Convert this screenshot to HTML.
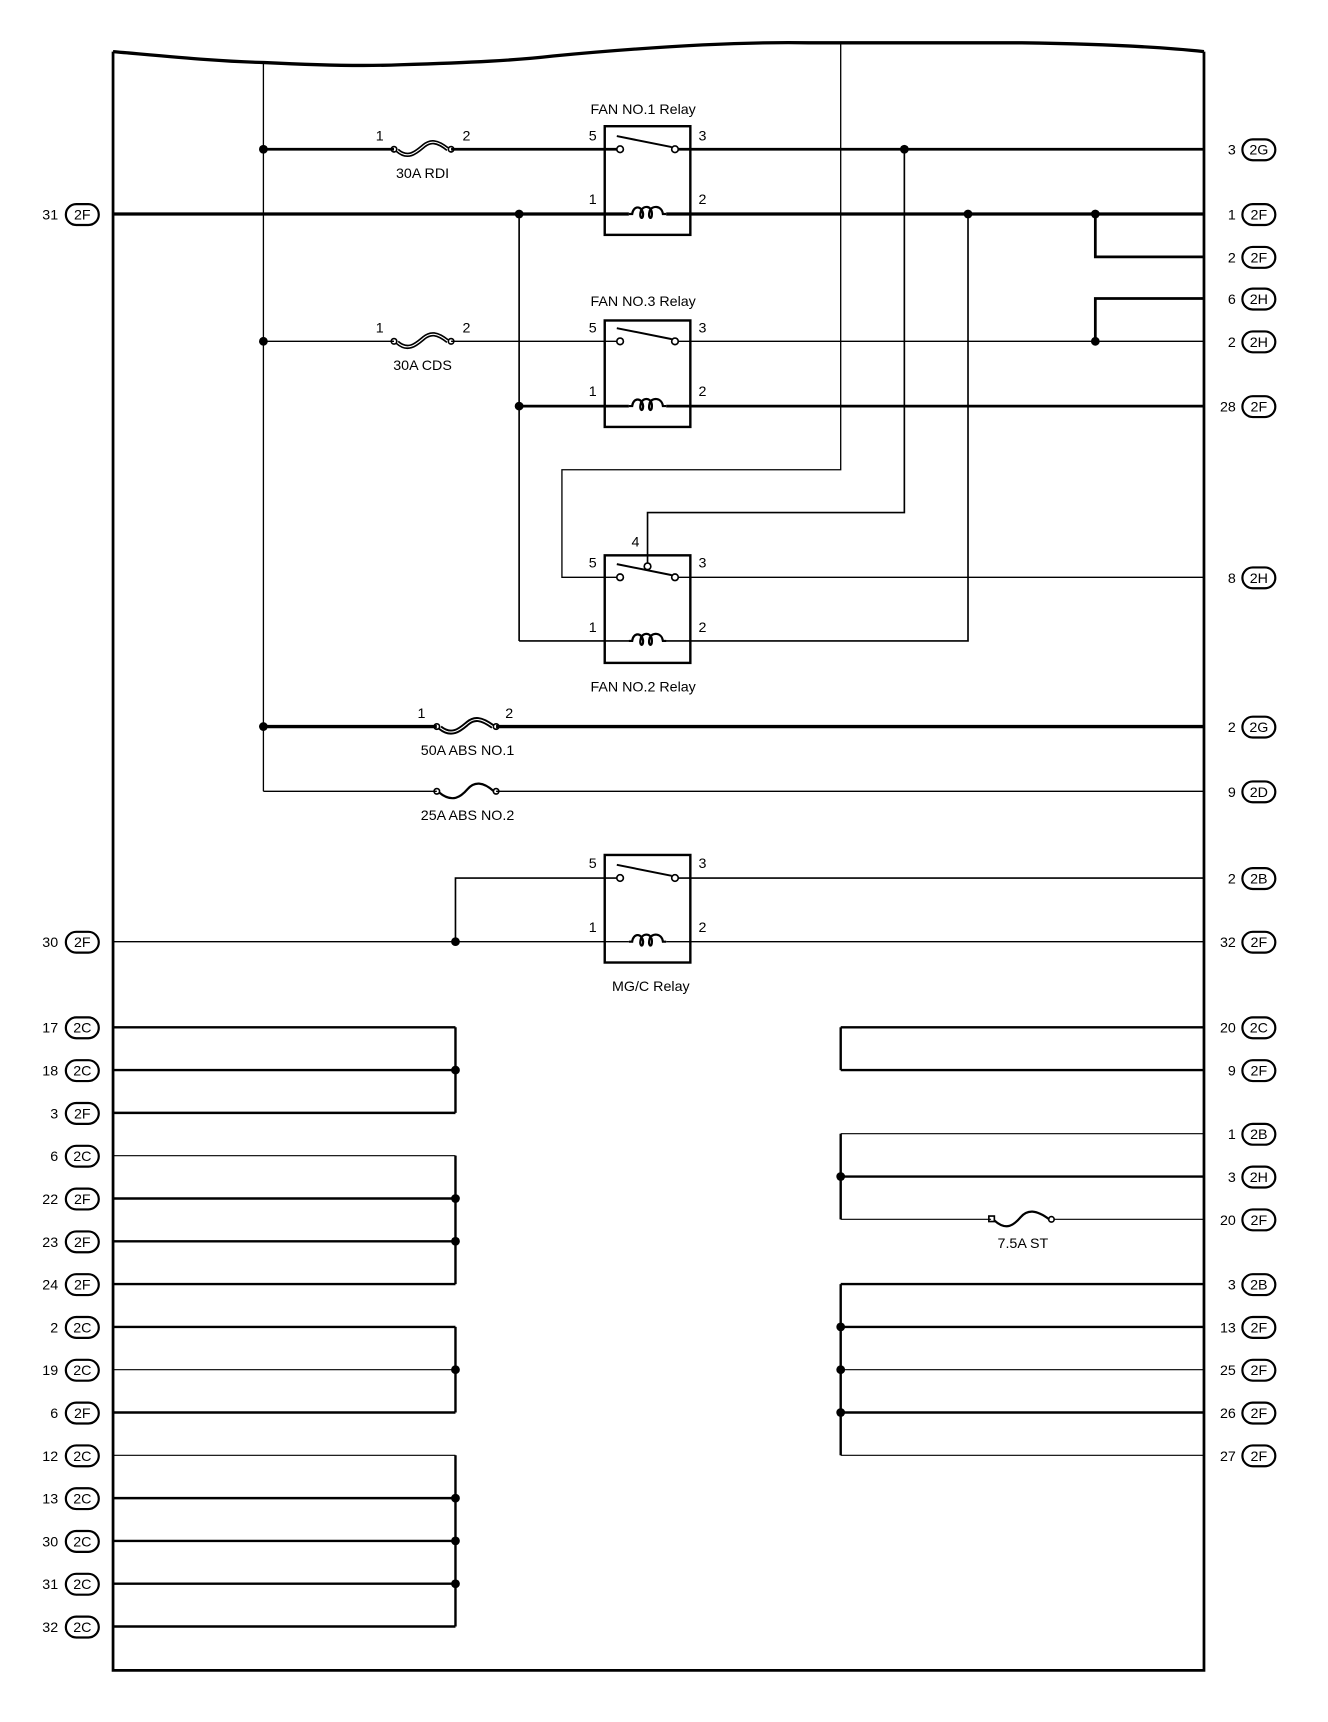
<!DOCTYPE html>
<html><head><meta charset="utf-8">
<style>
html,body{margin:0;padding:0;background:#fff;}
svg{display:block;}
text{font-family:"Liberation Sans",sans-serif;font-size:13px;fill:#000;}
</style></head>
<body>
<svg width="1328" height="1722" viewBox="0 0 1210 1569" preserveAspectRatio="none" xmlns="http://www.w3.org/2000/svg">
<defs>
<g id="coil"><path d="M-17,0 L-14,0 C-13,-8 -5,-8 -4,0 C-4,6 -8,4 -6,-3 C-4,-8 4,-8 4,0 C4,6 0,4 2,-3 C4,-8 13,-8 14,0 L17,0" fill="none" stroke="#000" stroke-width="2"/></g>
</defs>
<g stroke="#000" fill="none" stroke-linecap="butt">
<!-- frame -->
<path d="M103,47 C160,52 200,56 241,57 C300,60 340,60 365,59 C430,57 470,55 504,51 C600,42 680,38 737,39 L931,39 C1000,40 1060,43 1097,47" stroke-width="3"/>
<path d="M103,47 L103,1522 L1097,1522 L1097,47" stroke-width="2.5"/>

<!-- main verticals -->
<line x1="240" y1="57" x2="240" y2="721" stroke-width="1.2"/>
<path d="M766,40 L766,428 L512,428 L512,526 L565,526" stroke-width="1.2"/>
<line x1="473" y1="195" x2="473" y2="584" stroke-width="1.5"/>
<path d="M473,584 L575,584" stroke-width="1.5"/>
<path d="M605,584 L882,584 L882,195" stroke-width="1.5"/>
<path d="M824,136 L824,467 L590,467 L590,514" stroke-width="1.5"/>

<!-- row 136 -->
<line x1="240" y1="136" x2="359" y2="136" stroke-width="2.5"/>
<line x1="411" y1="136" x2="565" y2="136" stroke-width="2.5"/>
<line x1="615" y1="136" x2="1097" y2="136" stroke-width="2.5"/>
<!-- row 195 -->
<line x1="103" y1="195" x2="573" y2="195" stroke-width="3"/>
<line x1="607" y1="195" x2="1097" y2="195" stroke-width="3"/>
<path d="M998,195 L998,234 L1097,234" stroke-width="2.5"/>
<path d="M1097,272 L998,272 L998,311" stroke-width="2.5"/>
<!-- row 311 -->
<line x1="240" y1="311" x2="359" y2="311" stroke-width="1.2"/>
<line x1="411" y1="311" x2="565" y2="311" stroke-width="1.2"/>
<line x1="615" y1="311" x2="1097" y2="311" stroke-width="1.2"/>
<!-- row 370 -->
<line x1="473" y1="370" x2="573" y2="370" stroke-width="2.5"/>
<line x1="607" y1="370" x2="1097" y2="370" stroke-width="2.5"/>
<!-- row 526 -->
<line x1="615" y1="526" x2="1097" y2="526" stroke-width="1.2"/>
<!-- row 662 -->
<line x1="240" y1="662" x2="398" y2="662" stroke-width="3"/>
<line x1="452" y1="662" x2="1097" y2="662" stroke-width="3"/>
<!-- row 721 -->
<line x1="240" y1="721" x2="398" y2="721" stroke-width="1.2"/>
<line x1="452" y1="721" x2="1097" y2="721" stroke-width="1.2"/>
<!-- MG/C -->
<path d="M415,858 L415,800 L565,800" stroke-width="1.5"/>
<line x1="615" y1="800" x2="1097" y2="800" stroke-width="1.5"/>
<line x1="103" y1="858" x2="573" y2="858" stroke-width="1.2"/>
<line x1="607" y1="858" x2="1097" y2="858" stroke-width="1.2"/>

<!-- left groups -->
<g stroke-width="2.2">
<line x1="103" y1="936" x2="415" y2="936"/>
<line x1="103" y1="975" x2="415" y2="975"/>
<line x1="103" y1="1014" x2="415" y2="1014"/>
<line x1="415" y1="936" x2="415" y2="1014"/>
<line x1="103" y1="1092" x2="415" y2="1092"/>
<line x1="103" y1="1131" x2="415" y2="1131"/>
<line x1="103" y1="1170" x2="415" y2="1170"/>
<line x1="415" y1="1053" x2="415" y2="1170"/>
<line x1="103" y1="1209" x2="415" y2="1209"/>
<line x1="103" y1="1287" x2="415" y2="1287"/>
<line x1="415" y1="1209" x2="415" y2="1287"/>
<line x1="103" y1="1365" x2="415" y2="1365"/>
<line x1="103" y1="1404" x2="415" y2="1404"/>
<line x1="103" y1="1443" x2="415" y2="1443"/>
<line x1="103" y1="1482" x2="415" y2="1482"/>
<line x1="415" y1="1326" x2="415" y2="1482"/>
</g>
<g stroke-width="1">
<line x1="103" y1="1053" x2="415" y2="1053"/>
<line x1="103" y1="1248" x2="415" y2="1248"/>
<line x1="103" y1="1326" x2="415" y2="1326"/>
</g>

<!-- right groups -->
<g stroke-width="2.2">
<line x1="766" y1="936" x2="1097" y2="936"/>
<line x1="766" y1="975" x2="1097" y2="975"/>
<line x1="766" y1="936" x2="766" y2="975"/>
<line x1="766" y1="1072" x2="1097" y2="1072"/>
<line x1="766" y1="1033" x2="766" y2="1111"/>
<line x1="766" y1="1170" x2="1097" y2="1170"/>
<line x1="766" y1="1209" x2="1097" y2="1209"/>
<line x1="766" y1="1287" x2="1097" y2="1287"/>
<line x1="766" y1="1170" x2="766" y2="1326"/>
</g>
<g stroke-width="1">
<line x1="766" y1="1033" x2="1097" y2="1033"/>
<line x1="766" y1="1111" x2="903" y2="1111"/>
<line x1="960" y1="1111" x2="1097" y2="1111"/>
<line x1="766" y1="1248" x2="1097" y2="1248"/>
<line x1="766" y1="1326" x2="1097" y2="1326"/>
</g>

<!-- fuses heavy -->
<g stroke-width="1.5">
<circle cx="359" cy="136" r="2.5"/><circle cx="411" cy="136" r="2.5"/>
<path d="M362,137 C372,146 380,138 386,133 C392,128 398,128 408,136" stroke-width="4"/>
<path d="M362,137 C372,146 380,138 386,133 C392,128 398,128 408,136" stroke="#fff" stroke-width="1"/>
<circle cx="359" cy="311" r="2.5"/><circle cx="411" cy="311" r="2.5"/>
<path d="M362,312 C372,321 380,313 386,308 C392,303 398,303 408,311" stroke-width="4"/>
<path d="M362,312 C372,321 380,313 386,308 C392,303 398,303 408,311" stroke="#fff" stroke-width="1"/>
<circle cx="398" cy="662" r="2.5"/><circle cx="452" cy="662" r="2.5"/>
<path d="M401,663 C412,672 420,664 426,659 C432,654 438,654 449,662" stroke-width="4.5"/>
<path d="M401,663 C412,672 420,664 426,659 C432,654 438,654 449,662" stroke="#fff" stroke-width="1"/>
<!-- normal fuses -->
<circle cx="398" cy="721" r="2.5"/><circle cx="452" cy="721" r="2.5"/>
<path d="M400,722 C412,732 420,726 426,719 C432,712 440,712 450,721" stroke-width="2"/>
<rect x="901" y="1108" width="5" height="5" stroke-width="1.5"/><circle cx="958" cy="1111" r="2.5"/>
<path d="M906,1112 C917,1122 924,1116 930,1109 C936,1102 944,1102 956,1111" stroke-width="2"/>
</g>

<!-- relays -->
<g stroke-width="2.2">
<rect x="551" y="115" width="78" height="99"/>
<rect x="551" y="292" width="78" height="97"/>
<rect x="551" y="506" width="78" height="98"/>
<rect x="551" y="779" width="78" height="98"/>
</g>
<g stroke-width="1.5" fill="#fff">
<circle cx="565" cy="136" r="3"/><circle cx="615" cy="136" r="3"/>
<circle cx="565" cy="311" r="3"/><circle cx="615" cy="311" r="3"/>
<circle cx="565" cy="526" r="3"/><circle cx="615" cy="526" r="3"/><circle cx="590" cy="516" r="3"/>
<circle cx="565" cy="800" r="3"/><circle cx="615" cy="800" r="3"/>
</g>
<g stroke-width="1.8">
<line x1="562" y1="124" x2="612" y2="134"/>
<line x1="562" y1="299" x2="612" y2="309"/>
<line x1="562" y1="514" x2="612" y2="524"/>
<line x1="562" y1="788" x2="612" y2="798"/>
</g>
</g>
<use href="#coil" x="590" y="195"/>
<use href="#coil" x="590" y="370"/>
<use href="#coil" x="590" y="584"/>
<use href="#coil" x="590" y="858"/>

<!-- dots -->
<g fill="#000">
<circle cx="240" cy="136" r="4"/><circle cx="824" cy="136" r="4"/>
<circle cx="473" cy="195" r="4"/><circle cx="882" cy="195" r="4"/><circle cx="998" cy="195" r="4"/>
<circle cx="240" cy="311" r="4"/><circle cx="998" cy="311" r="4"/>
<circle cx="473" cy="370" r="4"/>
<circle cx="240" cy="662" r="4"/>
<circle cx="415" cy="858" r="4"/>
<circle cx="415" cy="975" r="4"/><circle cx="415" cy="1092" r="4"/><circle cx="415" cy="1131" r="4"/>
<circle cx="415" cy="1248" r="4"/><circle cx="415" cy="1365" r="4"/><circle cx="415" cy="1404" r="4"/><circle cx="415" cy="1443" r="4"/>
<circle cx="766" cy="1072" r="4"/><circle cx="766" cy="1209" r="4"/><circle cx="766" cy="1248" r="4"/><circle cx="766" cy="1287" r="4"/>
</g>

<!-- relay/fuse labels -->
<text x="586" y="104" text-anchor="middle">FAN NO.1 Relay</text>
<text x="586" y="279" text-anchor="middle">FAN NO.3 Relay</text>
<text x="586" y="630" text-anchor="middle">FAN NO.2 Relay</text>
<text x="593" y="903" text-anchor="middle">MG/C Relay</text>
<text x="540" y="128" text-anchor="middle">5</text><text x="640" y="128" text-anchor="middle">3</text>
<text x="540" y="186" text-anchor="middle">1</text><text x="640" y="186" text-anchor="middle">2</text>
<text x="540" y="303" text-anchor="middle">5</text><text x="640" y="303" text-anchor="middle">3</text>
<text x="540" y="361" text-anchor="middle">1</text><text x="640" y="361" text-anchor="middle">2</text>
<text x="540" y="517" text-anchor="middle">5</text><text x="640" y="517" text-anchor="middle">3</text><text x="579" y="498" text-anchor="middle">4</text>
<text x="540" y="576" text-anchor="middle">1</text><text x="640" y="576" text-anchor="middle">2</text>
<text x="540" y="791" text-anchor="middle">5</text><text x="640" y="791" text-anchor="middle">3</text>
<text x="540" y="849" text-anchor="middle">1</text><text x="640" y="849" text-anchor="middle">2</text>
<text x="346" y="128" text-anchor="middle">1</text><text x="425" y="128" text-anchor="middle">2</text>
<text x="385" y="162" text-anchor="middle">30A RDI</text>
<text x="346" y="303" text-anchor="middle">1</text><text x="425" y="303" text-anchor="middle">2</text>
<text x="385" y="337" text-anchor="middle">30A CDS</text>
<text x="384" y="654" text-anchor="middle">1</text><text x="464" y="654" text-anchor="middle">2</text>
<text x="426" y="688" text-anchor="middle">50A ABS NO.1</text>
<text x="426" y="747" text-anchor="middle">25A ABS NO.2</text>
<text x="932" y="1137" text-anchor="middle">7.5A ST</text>

<!-- connector labels left -->
<g stroke="#000" stroke-width="2" fill="none">
<rect x="60" y="186" width="30" height="19" rx="9.5"/>
<rect x="60" y="849" width="30" height="19" rx="9.5"/>
<rect x="60" y="927" width="30" height="19" rx="9.5"/>
<rect x="60" y="966" width="30" height="19" rx="9.5"/>
<rect x="60" y="1005" width="30" height="19" rx="9.5"/>
<rect x="60" y="1044" width="30" height="19" rx="9.5"/>
<rect x="60" y="1083" width="30" height="19" rx="9.5"/>
<rect x="60" y="1122" width="30" height="19" rx="9.5"/>
<rect x="60" y="1161" width="30" height="19" rx="9.5"/>
<rect x="60" y="1200" width="30" height="19" rx="9.5"/>
<rect x="60" y="1239" width="30" height="19" rx="9.5"/>
<rect x="60" y="1278" width="30" height="19" rx="9.5"/>
<rect x="60" y="1317" width="30" height="19" rx="9.5"/>
<rect x="60" y="1356" width="30" height="19" rx="9.5"/>
<rect x="60" y="1395" width="30" height="19" rx="9.5"/>
<rect x="60" y="1434" width="30" height="19" rx="9.5"/>
<rect x="60" y="1473" width="30" height="19" rx="9.5"/>
</g>
<g text-anchor="end">
<text x="53" y="200">31</text><text x="53" y="863">30</text>
<text x="53" y="941">17</text><text x="53" y="980">18</text><text x="53" y="1019">3</text>
<text x="53" y="1058">6</text><text x="53" y="1097">22</text><text x="53" y="1136">23</text>
<text x="53" y="1175">24</text><text x="53" y="1214">2</text><text x="53" y="1253">19</text>
<text x="53" y="1292">6</text><text x="53" y="1331">12</text><text x="53" y="1370">13</text>
<text x="53" y="1409">30</text><text x="53" y="1448">31</text><text x="53" y="1487">32</text>
</g>
<g text-anchor="middle">
<text x="75" y="200">2F</text><text x="75" y="863">2F</text>
<text x="75" y="941">2C</text><text x="75" y="980">2C</text><text x="75" y="1019">2F</text>
<text x="75" y="1058">2C</text><text x="75" y="1097">2F</text><text x="75" y="1136">2F</text>
<text x="75" y="1175">2F</text><text x="75" y="1214">2C</text><text x="75" y="1253">2C</text>
<text x="75" y="1292">2F</text><text x="75" y="1331">2C</text><text x="75" y="1370">2C</text>
<text x="75" y="1409">2C</text><text x="75" y="1448">2C</text><text x="75" y="1487">2C</text>
</g>

<!-- connector labels right -->
<g stroke="#000" stroke-width="2" fill="none">
<rect x="1132" y="127" width="30" height="19" rx="9.5"/>
<rect x="1132" y="186" width="30" height="19" rx="9.5"/>
<rect x="1132" y="225" width="30" height="19" rx="9.5"/>
<rect x="1132" y="263" width="30" height="19" rx="9.5"/>
<rect x="1132" y="302" width="30" height="19" rx="9.5"/>
<rect x="1132" y="361" width="30" height="19" rx="9.5"/>
<rect x="1132" y="517" width="30" height="19" rx="9.5"/>
<rect x="1132" y="653" width="30" height="19" rx="9.5"/>
<rect x="1132" y="712" width="30" height="19" rx="9.5"/>
<rect x="1132" y="791" width="30" height="19" rx="9.5"/>
<rect x="1132" y="849" width="30" height="19" rx="9.5"/>
<rect x="1132" y="927" width="30" height="19" rx="9.5"/>
<rect x="1132" y="966" width="30" height="19" rx="9.5"/>
<rect x="1132" y="1024" width="30" height="19" rx="9.5"/>
<rect x="1132" y="1063" width="30" height="19" rx="9.5"/>
<rect x="1132" y="1102" width="30" height="19" rx="9.5"/>
<rect x="1132" y="1161" width="30" height="19" rx="9.5"/>
<rect x="1132" y="1200" width="30" height="19" rx="9.5"/>
<rect x="1132" y="1239" width="30" height="19" rx="9.5"/>
<rect x="1132" y="1278" width="30" height="19" rx="9.5"/>
<rect x="1132" y="1317" width="30" height="19" rx="9.5"/>
</g>
<g text-anchor="end">
<text x="1126" y="141">3</text><text x="1126" y="200">1</text><text x="1126" y="239">2</text>
<text x="1126" y="277">6</text><text x="1126" y="316">2</text><text x="1126" y="375">28</text>
<text x="1126" y="531">8</text><text x="1126" y="667">2</text><text x="1126" y="726">9</text>
<text x="1126" y="805">2</text><text x="1126" y="863">32</text><text x="1126" y="941">20</text>
<text x="1126" y="980">9</text><text x="1126" y="1038">1</text><text x="1126" y="1077">3</text>
<text x="1126" y="1116">20</text><text x="1126" y="1175">3</text><text x="1126" y="1214">13</text>
<text x="1126" y="1253">25</text><text x="1126" y="1292">26</text><text x="1126" y="1331">27</text>
</g>
<g text-anchor="middle">
<text x="1147" y="141">2G</text><text x="1147" y="200">2F</text><text x="1147" y="239">2F</text>
<text x="1147" y="277">2H</text><text x="1147" y="316">2H</text><text x="1147" y="375">2F</text>
<text x="1147" y="531">2H</text><text x="1147" y="667">2G</text><text x="1147" y="726">2D</text>
<text x="1147" y="805">2B</text><text x="1147" y="863">2F</text><text x="1147" y="941">2C</text>
<text x="1147" y="980">2F</text><text x="1147" y="1038">2B</text><text x="1147" y="1077">2H</text>
<text x="1147" y="1116">2F</text><text x="1147" y="1175">2B</text><text x="1147" y="1214">2F</text>
<text x="1147" y="1253">2F</text><text x="1147" y="1292">2F</text><text x="1147" y="1331">2F</text>
</g>
</svg>
</body></html>
